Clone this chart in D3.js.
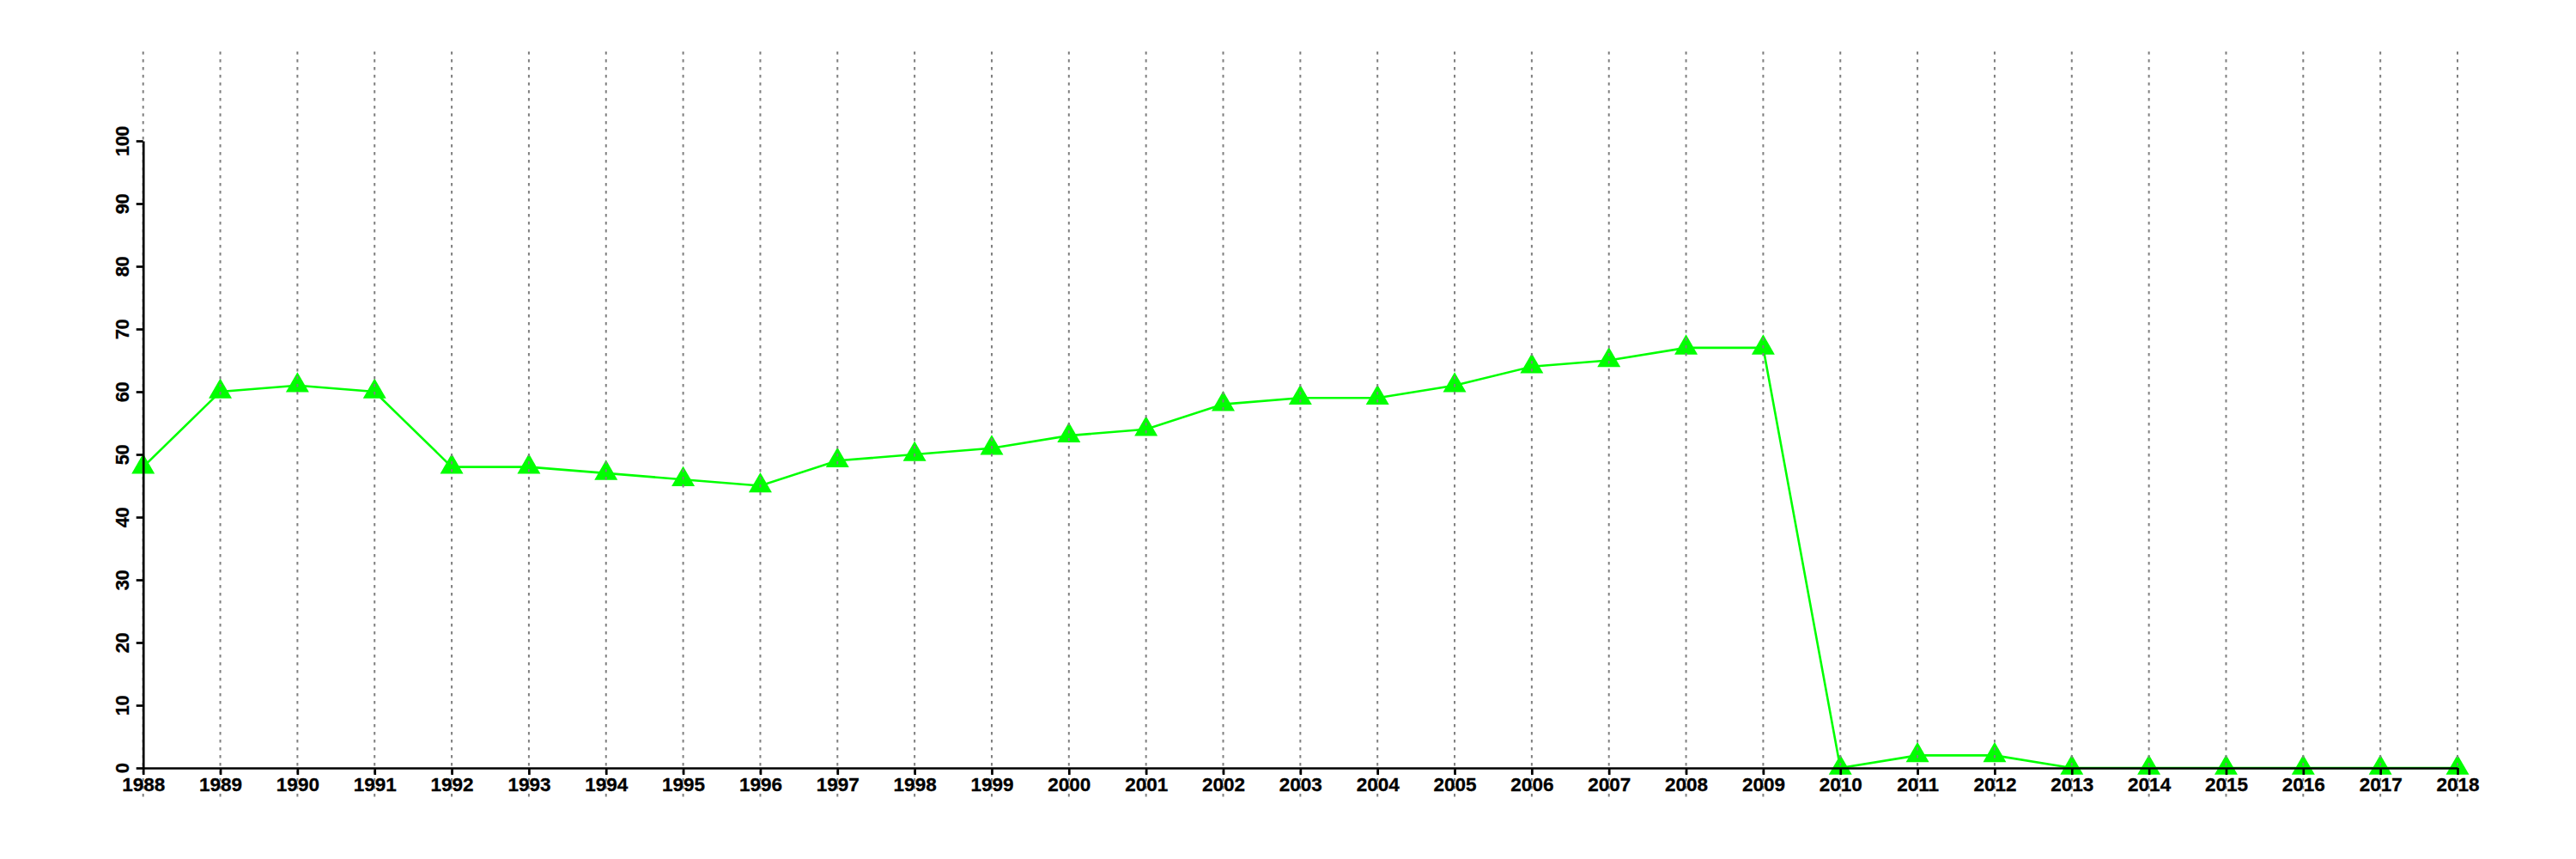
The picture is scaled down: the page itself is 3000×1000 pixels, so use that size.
<!DOCTYPE html>
<html><head><meta charset="utf-8">
<script src="https://cdn.jsdelivr.net/npm/d3@7"></script>
<style>body{margin:0;background:#fff}</style>
</head><body>
<script>
const years = [1988,1989,1990,1991,1992,1993,1994,1995,1996,1997,1998,1999,2000,2001,2002,2003,2004,2005,2006,2007,2008,2009,2010,2011,2012,2013,2014,2015,2016,2017,2018];
const values = [48,60,61,60,48,48,47,46,45,49,50,51,53,54,58,59,59,61,64,65,67,67,0,2,2,0,0,0,0,0,0];
const yTicks = [0,10,20,30,40,50,60,70,80,90,100];

const W = 3000, H = 1000;
const svg = d3.select("body").append("svg").attr("width", W).attr("height", H);
const x = d3.scaleLinear().domain([1988, 2018]).range([166.7, 2862]);
const y = d3.scaleLinear().domain([0, 100]).range([894, 164]);
const font = "'Liberation Sans', Arial, sans-serif";

// line
const line = d3.line().x((d,i)=>x(years[i])).y(d=>y(d));
svg.append("path").datum(values).attr("d", line)
  .attr("fill","none").attr("stroke","#00ff00").attr("stroke-width",2.6);

// points
const sym = d3.symbol().type(d3.symbolTriangle).size(315);
svg.selectAll(".pt").data(values).join("path")
  .attr("d", sym)
  .attr("transform",(d,i)=>`translate(${x(years[i])},${y(d)})`)
  .attr("fill","#00ff00");

// grid
svg.selectAll(".grid").data(years).join("line")
  .attr("x1",d=>x(d)).attr("x2",d=>x(d)).attr("y1",60).attr("y2",928)
  .attr("stroke","#808080").attr("stroke-width",2).attr("stroke-dasharray","3.5,5.5");

// x axis
const xAxis = d3.axisBottom(x).tickValues(years).tickFormat(d3.format("d")).tickSize(8).tickSizeOuter(0);
const gx = svg.append("g").attr("transform",`translate(0,${y(0)})`).call(xAxis);
gx.select(".domain").attr("stroke","#000").attr("stroke-width",2.7);
gx.selectAll(".tick line").attr("stroke","#000").attr("stroke-width",2.7);
gx.selectAll(".tick text").attr("font-family",font).attr("font-weight","bold")
  .attr("font-size",22.5).attr("fill","#000").attr("stroke","#000").attr("stroke-width",0.3)
  .attr("dy",null).attr("y",26.5);

// y axis
const yAxis = d3.axisLeft(y).tickValues(yTicks).tickSize(8).tickSizeOuter(0);
const gy = svg.append("g").attr("transform",`translate(${x(1988)},0)`).call(yAxis);
gy.select(".domain").attr("stroke","#000").attr("stroke-width",2.7);
gy.selectAll(".tick line").attr("stroke","#000").attr("stroke-width",2.7);
gy.selectAll(".tick text").attr("font-family",font).attr("font-weight","bold")
  .attr("font-size",22).attr("fill","#000").attr("stroke","#000").attr("stroke-width",0.3)
  .attr("letter-spacing",-0.6)
  .attr("x",null).attr("dy",null).attr("y",null)
  .attr("text-anchor","middle")
  .attr("transform","translate(-16.7,0) rotate(-90)");
</script>
</body></html>
